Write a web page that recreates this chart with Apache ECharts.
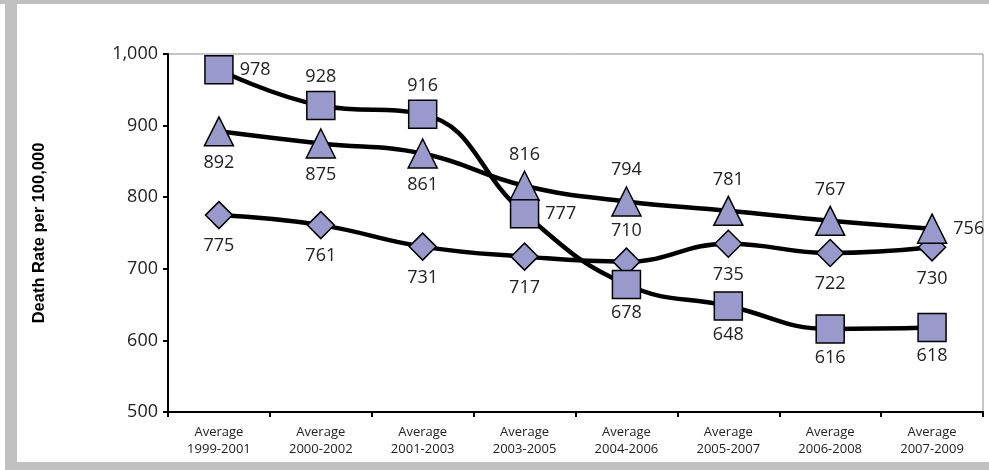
<!DOCTYPE html>
<html>
<head>
<meta charset="utf-8">
<style>
  html, body { margin: 0; padding: 0; background: #fff; }
  #chart { width: 989px; height: 470px; }
</style>
<script src="https://cdn.jsdelivr.net/npm/echarts@6/dist/echarts.min.js"></script>
</head>
<body>
<div id="chart"></div>
<script>
// Three-year average death rates per 100,000
const periods = [
  'Average\n1999-2001', 'Average\n2000-2002', 'Average\n2001-2003', 'Average\n2003-2005',
  'Average\n2004-2006', 'Average\n2005-2007', 'Average\n2006-2008', 'Average\n2007-2009'
];
const squareValues   = [978, 928, 916, 777, 678, 648, 616, 618];
const triangleValues = [892, 875, 861, 816, 794, 781, 767, 756];
const diamondValues  = [775, 761, 731, 717, 710, 735, 722, 730];
const yTicks = [500, 600, 700, 800, 900, 1000];

// Where each value label sits relative to its marker
const squareLabelPos   = ['right', 'top', 'top', 'right', 'bottom', 'bottom', 'bottom', 'bottom'];
const triangleLabelPos = ['bottom', 'bottom', 'bottom', 'top', 'top', 'top', 'top', 'right'];
const diamondLabelPos  = ['bottom', 'bottom', 'bottom', 'bottom', 'top', 'bottom', 'bottom', 'bottom'];

const FILL = '#9999CC';
const LABEL_FONT = 'Open Sans';

function buildSeries(name, values, positions, symbol, size, dist) {
  return {
    name: name,
    type: 'line',
    smooth: 0.45,
    symbol: symbol,
    symbolSize: size,
    lineStyle: { color: '#000', width: 4.5 },
    itemStyle: { color: FILL, borderColor: '#000', borderWidth: 1.5 },
    data: values.map((v, i) => ({
      value: v,
      label: {
        show: true,
        position: positions[i],
        distance: positions[i] === 'right' ? 6 : dist,
        color: '#222',
        fontFamily: LABEL_FONT,
        fontSize: 18,
        formatter: '{c}'
      }
    })),
    emphasis: { disabled: true },
    animation: false
  };
}

const chart = echarts.init(document.getElementById('chart'));
chart.setOption({
  animation: false,
  grid: {
    left: 168, right: 6, top: 54, bottom: 58,
    show: true, borderColor: '#8c8c8c', borderWidth: 1, backgroundColor: 'transparent'
  },
  graphic: [
    { type: 'rect', shape: { x: 0, y: 0, width: 989, height: 4 }, style: { fill: '#c0c0c0' }, silent: true },
    { type: 'rect', shape: { x: 5, y: 0, width: 12, height: 470 }, style: { fill: '#c0c0c0' }, silent: true },
    { type: 'rect', shape: { x: 5, y: 462, width: 984, height: 8 }, style: { fill: '#c0c0c0' }, silent: true }
  ],
  xAxis: {
    type: 'category',
    data: periods,
    boundaryGap: true,
    axisLine: { lineStyle: { color: '#000', width: 2 } },
    axisTick: { show: true, length: 5, lineStyle: { color: '#000', width: 2 } },
    axisLabel: {
      color: '#222', fontFamily: 'Open Sans', fontSize: 13, lineHeight: 17, margin: 12,
      interval: 0
    }
  },
  yAxis: {
    type: 'value',
    min: yTicks[0],
    max: yTicks[yTicks.length - 1],
    interval: 100,
    name: 'Death Rate per 100,000',
    nameLocation: 'middle',
    nameGap: 120,
    nameTextStyle: {
      fontFamily: 'Liberation Sans', fontWeight: 'bold', fontSize: 16.5, color: '#000'
    },
    axisLine: { show: true, lineStyle: { color: '#000', width: 2 } },
    axisTick: { show: true, length: 5, lineStyle: { color: '#000', width: 2 } },
    splitLine: { show: false },
    axisLabel: {
      color: '#222', fontFamily: 'Open Sans', fontSize: 18, margin: 10,
      formatter: v => v.toLocaleString('en-US')
    }
  },
  series: [
    buildSeries('Diamonds', diamondValues, diamondLabelPos, 'diamond', 27, 8),
    buildSeries('Triangles', triangleValues, triangleLabelPos, 'triangle', 29, 7),
    buildSeries('Squares', squareValues, squareLabelPos, 'rect', 28, 5)
  ]
});
</script>
</body>
</html>
